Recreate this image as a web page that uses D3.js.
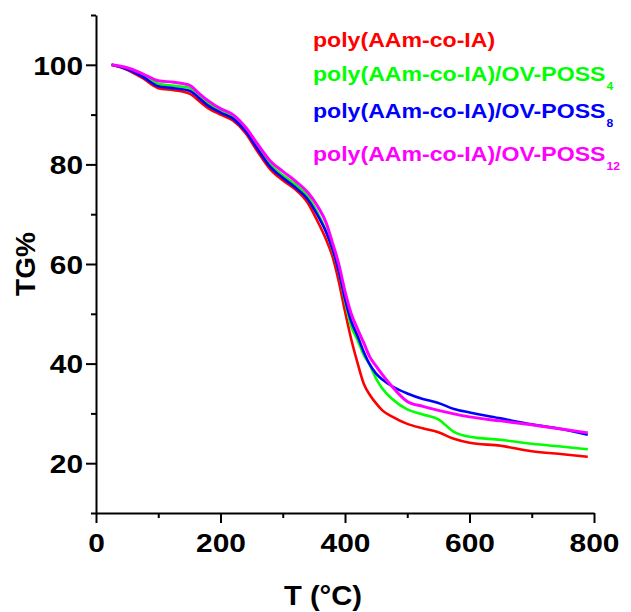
<!DOCTYPE html>
<html>
<head>
<meta charset="utf-8">
<script src="https://cdn.jsdelivr.net/npm/d3@7"></script>
<style>
  body { margin: 0; background: #fff; }
</style>
</head>
<body>
<div id="chart"></div>
<script>
// temperatures (°C) shared by all four curves
var temps = [25, 50, 75, 100, 125, 150, 165, 180, 200, 220, 240, 260, 280, 300, 320, 340, 355, 370, 380, 390,
  400, 410, 420, 430, 440, 450, 460, 475, 500, 525, 550, 575, 600, 650, 700, 750, 790];

// TG%
var tgPlain = [100, 99.0, 97.3, 95.3, 94.9, 94.2, 92.8, 91.3, 90.0, 88.8, 86.3, 82.5, 79.0, 76.8, 75.0, 72.3, 68.8, 64.8, 61.5, 56.5,
  50.5, 44.9, 40.2, 36.0, 33.7, 32.0, 30.6, 29.4, 27.9, 27.0, 26.2, 24.9, 24.1, 23.5, 22.4, 21.8, 21.3];
var tgPoss4 = [100, 99.2, 97.8, 96.2, 95.8, 95.4, 94.0, 92.3, 90.8, 89.5, 87.0, 83.4, 80.0, 77.8, 76.0, 73.6, 70.5, 66.5, 62.8, 58.5,
  52.5, 47.5, 44.8, 41.8, 39.7, 37.0, 35.0, 33.0, 30.8, 29.8, 28.8, 26.3, 25.3, 24.7, 23.9, 23.3, 22.8];
var tgPoss8 = [100, 99.1, 97.6, 95.7, 95.3, 94.8, 93.4, 91.8, 90.4, 89.2, 86.7, 83.0, 79.5, 77.3, 75.4, 73.0, 70.0, 66.3, 63.0, 58.5,
  53.0, 48.5, 45.6, 42.4, 39.8, 38.0, 36.8, 35.5, 34.0, 32.9, 32.1, 30.9, 30.2, 29.0, 27.8, 26.8, 25.7];
var tgPoss12 = [100, 99.4, 98.2, 96.8, 96.5, 95.9, 94.3, 92.8, 91.2, 90.0, 87.5, 84.0, 80.7, 78.6, 76.7, 74.4, 71.8, 68.2, 64.2, 60.0,
  54.5, 50.0, 47.0, 44.2, 41.3, 39.5, 37.8, 35.5, 32.4, 31.4, 30.6, 29.9, 29.3, 28.5, 27.7, 26.8, 26.1];

var seriesNames = ["poly(AAm-co-IA)", "poly(AAm-co-IA)/OV-POSS", "poly(AAm-co-IA)/OV-POSS", "poly(AAm-co-IA)/OV-POSS"];
var seriesSubs = ["", "4", "8", "12"];
var seriesColors = ["#ff0000", "#00ff00", "#0000ff", "#ff00ff"];

var xTicks = [0, 200, 400, 600, 800];
var xMinorTicks = [100, 300, 500, 700];
var yTicks = [20, 40, 60, 80, 100];
var yMinorTicks = [10, 30, 50, 70, 90, 110];

var width = 631, height = 612;

var svg = d3.select("#chart")
  .append("svg")
  .attr("width", width)
  .attr("height", height)
  .style("font-family", "'Liberation Sans', Arial, sans-serif")
  .style("font-weight", "bold");

var x = d3.scaleLinear().domain([0, 800]).range([96, 594]);
var y = d3.scaleLinear().domain([10, 110]).range([513, 15]);

// curves
var allSeries = [tgPlain, tgPoss4, tgPoss8, tgPoss12];
var line = d3.line()
  .x(function (d) { return x(d[0]); })
  .y(function (d) { return y(d[1]); })
  .curve(d3.curveMonotoneX);

allSeries.forEach(function (vals, i) {
  var pts = temps.map(function (t, j) { return [t, vals[j]]; });
  svg.append("path")
    .datum(pts)
    .attr("fill", "none")
    .attr("stroke", seriesColors[i])
    .attr("stroke-width", i == 3 ? 3 : 2.6)
    .attr("stroke-linejoin", "round")
    .attr("d", line);
});

// x axis
var gx = svg.append("g")
  .attr("transform", "translate(0,513)")
  .call(d3.axisBottom(x).tickValues(xTicks).tickSize(10).tickSizeOuter(0));
gx.selectAll("text")
  .attr("y", 39)
  .attr("dy", 0)
  .attr("fill", "#000")
  .attr("transform", "scale(1.15,1)")
  .style("font-size", "26px");

var gxMinor = svg.append("g")
  .attr("transform", "translate(0,513)")
  .call(d3.axisBottom(x).tickValues(xMinorTicks).tickSize(5).tickFormat(""));
gxMinor.select(".domain").remove();

// y axis
var gy = svg.append("g")
  .attr("transform", "translate(96,0)")
  .call(d3.axisLeft(y).tickValues(yTicks).tickSize(10).tickSizeOuter(0));
gy.selectAll("text")
  .attr("x", -11.3)
  .attr("dy", "0.36em")
  .attr("fill", "#000")
  .attr("transform", "scale(1.15,1)")
  .style("font-size", "26px");

var gyMinor = svg.append("g")
  .attr("transform", "translate(96,0)")
  .call(d3.axisLeft(y).tickValues(yMinorTicks).tickSize(5).tickFormat(""));
gyMinor.select(".domain").remove();

svg.selectAll(".domain, .tick line")
  .attr("stroke", "#000")
  .attr("stroke-width", 2);

// axis titles
svg.append("g")
  .attr("transform", "translate(323,605) scale(1.08,1)")
  .append("text")
  .attr("text-anchor", "middle")
  .style("font-size", "27px")
  .text("T (°C)");

svg.append("g")
  .attr("transform", "translate(35,264) rotate(-90)")
  .append("text")
  .attr("text-anchor", "middle")
  .style("font-size", "28px")
  .text("TG%");

// legend
var legendBase = [47, 81, 118, 161];
seriesNames.forEach(function (name, i) {
  var t = svg.append("g")
    .attr("transform", "translate(313," + legendBase[i] + ") scale(1.1,1)")
    .append("text")
    .attr("fill", seriesColors[i])
    .style("font-size", "21px")
    .text(name);
  if (seriesSubs[i]) {
    t.append("tspan")
      .attr("dx", 1)
      .attr("dy", 9)
      .style("font-size", "11px")
      .text(seriesSubs[i]);
  }
});
</script>
</body>
</html>
